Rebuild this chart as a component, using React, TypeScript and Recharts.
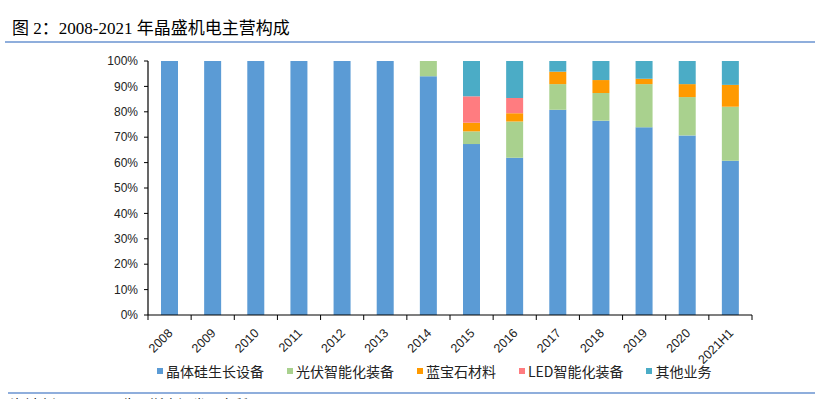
import React from "react";
import { BarChart, Bar, XAxis, YAxis } from "recharts";

const categories = ["2008", "2009", "2010", "2011", "2012", "2013", "2014", "2015", "2016", "2017", "2018", "2019", "2020", "2021H1"];
const crystal = [100, 100, 100, 100, 100, 100, 94, 67.3, 61.9, 80.8, 76.5, 73.9, 70.7, 60.7];
const pv = [0, 0, 0, 0, 0, 0, 6, 5.0, 14.3, 10.1, 10.9, 17.0, 15.1, 21.3];
const sapphire = [0, 0, 0, 0, 0, 0, 0, 3.4, 3.2, 4.9, 5.1, 2.1, 5.1, 8.6];
const led = [0, 0, 0, 0, 0, 0, 0, 10.4, 6.0, 0, 0, 0, 0, 0];
const other = [0, 0, 0, 0, 0, 0, 0, 13.9, 14.6, 4.2, 7.5, 7.0, 9.1, 9.4];
const yTicks = [0, 10, 20, 30, 40, 50, 60, 70, 80, 90, 100];

const seriesNames = ["晶体硅生长设备", "光伏智能化装备", "蓝宝石材料", "LED智能化装备", "其他业务"];
const colors = ["#5B9BD5", "#A9D18E", "#FF9A00", "#FF7C80", "#4BACC6"];

const data = categories.map((c, i) => ({
  name: c,
  s0: crystal[i],
  s1: pv[i],
  s2: sapphire[i],
  s3: led[i],
  s4: other[i],
}));

const W = 815;
const H = 399;
const xAxisHeight = 30;
const margin = { top: 61, right: 63, bottom: 84 - xAxisHeight, left: 88 };
const yAxisWidth = 60;
const plotW = W - margin.left - yAxisWidth - margin.right;
const band = plotW / categories.length;

const XTick = (props: any) => {
  const { x, y, payload, index } = props;
  const axisY = y - 8;
  const tx = x + 1;
  const ty = axisY + 16;
  return (
    <g>
      <line x1={x - band / 2} y1={axisY} x2={x - band / 2} y2={axisY + 5} stroke="#000" strokeWidth={1} />
      {index === categories.length - 1 && (
        <line x1={x + band / 2} y1={axisY} x2={x + band / 2} y2={axisY + 5} stroke="#000" strokeWidth={1} />
      )}
      <text
        x={tx}
        y={ty}
        textAnchor="end"
        dominantBaseline="central"
        transform={`rotate(-45, ${tx}, ${ty})`}
        fontSize={12.5}
        fontFamily="'Liberation Sans', Arial, sans-serif"
        fill="#222"
      >
        {payload.value}
      </text>
    </g>
  );
};

export default function App() {
  return (
    <div
      style={{
        position: "absolute",
        left: 0,
        top: 0,
        width: W,
        height: H,
        background: "#fff",
        overflow: "hidden",
      }}
    >
      <div
        style={{
          position: "absolute",
          left: 12,
          top: 19,
          fontSize: 17,
          lineHeight: "20px",
          fontFamily: "'Liberation Serif', 'Times New Roman', 'Noto Sans CJK SC', serif",
          color: "#000",
          whiteSpace: "nowrap",
        }}
      >
        图 2：2008-2021 年晶盛机电主营构成
      </div>
      <div style={{ position: "absolute", left: 5, top: 41, width: W - 5, height: 1.5, background: "#8FAEDC" }} />
      <div style={{ position: "absolute", left: 0, top: 0 }}>
        <BarChart width={W} height={H} data={data} margin={margin} barSize={17}>
          <XAxis
            dataKey="name"
            interval={0}
            height={xAxisHeight}
            tickLine={false}
            axisLine={{ stroke: "#000", strokeWidth: 1.2 }}
            tick={<XTick />}
          />
          <YAxis
            width={yAxisWidth}
            domain={[0, 100]}
            ticks={yTicks}
            interval={0}
            tickFormatter={(v: number) => `${v}%`}
            axisLine={{ stroke: "#000", strokeWidth: 1.2 }}
            tickLine={{ stroke: "#000" }}
            tickSize={4}
            tickMargin={6}
            tick={{ fontSize: 12, fill: "#222", fontFamily: "'Liberation Sans', Arial, sans-serif" }}
          />
          {["s0", "s1", "s2", "s3", "s4"].map((k, i) => (
            <Bar key={k} dataKey={k} stackId="a" fill={colors[i]} isAnimationActive={false} />
          ))}
        </BarChart>
      </div>
      <div
        style={{
          position: "absolute",
          left: 157,
          top: 361,
          display: "flex",
          alignItems: "center",
          fontSize: 14,
          lineHeight: "20px",
          fontFamily: "'Noto Sans CJK SC', sans-serif",
          color: "#222",
          whiteSpace: "nowrap",
        }}
      >
        {seriesNames.map((n, i) => (
          <div key={n} style={{ display: "flex", alignItems: "center", marginRight: 23 }}>
            <span style={{ display: "inline-block", width: 6, height: 6, background: colors[i], marginRight: 3 }} />
            <span>{n}</span>
          </div>
        ))}
      </div>
      <div style={{ position: "absolute", left: 8, top: 392, width: W - 8, height: 1.5, background: "#8FAEDC" }} />
      <div
        style={{
          position: "absolute",
          left: 10,
          top: 396,
          fontSize: 14,
          lineHeight: "16px",
          fontFamily: "'Noto Sans CJK SC', sans-serif",
          color: "#000",
          whiteSpace: "nowrap",
        }}
      >
        资料来源：公司公告，浙商证券研究所
      </div>
    </div>
  );
}
